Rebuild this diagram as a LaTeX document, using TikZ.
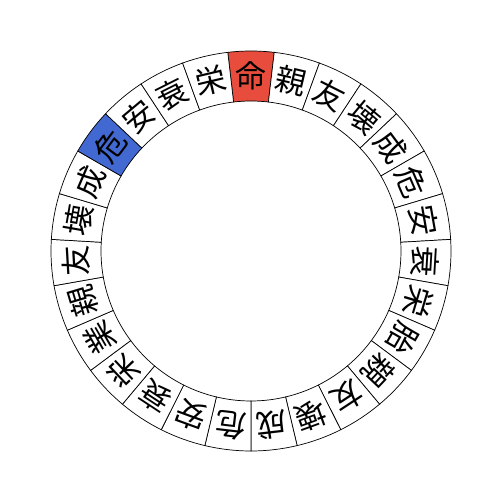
\documentclass[tikz,border=0pt]{standalone}
\usepackage{fontspec}
\newfontfamily\cjk{Noto Sans CJK JP}
\usepackage{xcolor}
\usepackage{tikz}
\usetikzlibrary{positioning}
\definecolor{meired}{HTML}{E74C3C}
\definecolor{kiblue}{HTML}{4169D1}

\begin{document}
\begin{tikzpicture}[
  x=0.02cm, y=0.02cm,
  seg/.style={draw=black, line width=0.4pt},
  lbl/.style={font=\cjk\fontsize{17.5}{17.5}\selectfont, inner sep=0pt}
]
\useasboundingbox (-251,-251) rectangle (251,251);

% Ring of 27 mansions, clockwise from the top
\foreach \ch/\col [count=\k from 0] in {命/meired, 親/white, 友/white, 壊/white, 成/white, 危/white, 安/white, 衰/white, 栄/white,
  胎/white, 親/white, 友/white, 壊/white, 成/white, 危/white, 安/white, 衰/white, 栄/white,
  業/white, 親/white, 友/white, 壊/white, 成/white, 危/kiblue, 安/white, 衰/white, 栄/white} {
  \pgfmathsetmacro\a{90-\k*360/27}
  \pgfmathsetmacro\aa{\a+180/27}
  \pgfmathsetmacro\ab{\a-180/27}
  \draw[seg, fill=\col] (\aa:150) -- (\aa:200) arc[start angle=\aa, end angle=\ab, radius=200]
    -- (\ab:150) arc[start angle=\ab, end angle=\aa, radius=150] -- cycle;
  \node[lbl, rotate=\a-90] (m\k) at (\a:175) {\ch};
}

\end{tikzpicture}
\end{document}
